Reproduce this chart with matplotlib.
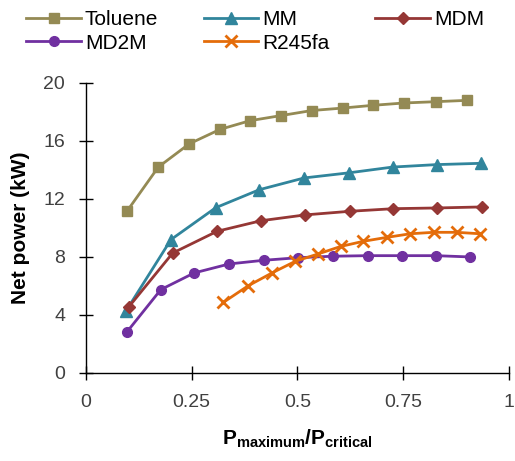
import matplotlib
matplotlib.use("Agg")
import matplotlib.pyplot as plt

plt.rcParams["font.family"] = ["Liberation Sans", "DejaVu Sans"]
plt.rcParams["mathtext.fontset"] = "custom"
plt.rcParams["mathtext.rm"] = "Liberation Sans"
plt.rcParams["mathtext.bf"] = "Liberation Sans:bold"

# data
tol_x = [0.098, 0.171, 0.244, 0.317, 0.388, 0.461, 0.534, 0.607, 0.679, 0.752, 0.827, 0.900]
tol_y = [11.2, 14.2, 15.8, 16.8, 17.4, 17.75, 18.1, 18.27, 18.46, 18.62, 18.71, 18.8]

mm_x = [0.094, 0.201, 0.307, 0.410, 0.516, 0.621, 0.725, 0.829, 0.935]
mm_y = [4.25, 9.2, 11.4, 12.64, 13.45, 13.8, 14.2, 14.37, 14.46]

mdm_x = [0.101, 0.205, 0.310, 0.414, 0.518, 0.624, 0.727, 0.831, 0.936]
mdm_y = [4.55, 8.27, 9.77, 10.5, 10.9, 11.15, 11.33, 11.38, 11.45]

md2m_x = [0.096, 0.177, 0.256, 0.339, 0.420, 0.502, 0.583, 0.666, 0.747, 0.827, 0.909]
md2m_y = [2.8, 5.75, 6.9, 7.52, 7.77, 7.95, 8.05, 8.09, 8.09, 8.09, 8.0]

r245_x = [0.325, 0.384, 0.440, 0.495, 0.548, 0.603, 0.656, 0.711, 0.767, 0.822, 0.877, 0.932]
r245_y = [4.87, 6.02, 6.9, 7.7, 8.2, 8.73, 9.08, 9.35, 9.6, 9.7, 9.7, 9.6]

fig = plt.figure(figsize=(5.15, 4.61), dpi=100)
ax = fig.add_axes([0.167, 0.191, 0.821, 0.629])

h_tol, = ax.plot(tol_x, tol_y, "-s", color="#948A54", lw=2, ms=7, label="Toluene")
h_mm, = ax.plot(mm_x, mm_y, "-^", color="#31859C", lw=2, ms=8, label="MM")
h_mdm, = ax.plot(mdm_x, mdm_y, "-D", color="#953735", lw=2, ms=6, label="MDM")
h_md2m, = ax.plot(md2m_x, md2m_y, "-o", color="#7030A0", lw=2, ms=7, label="MD2M")
h_r245, = ax.plot(r245_x, r245_y, "-x", color="#E46C0A", lw=2, ms=8, mew=2, label="R245fa")

ax.set_xlim(0, 1)
ax.set_ylim(0, 20)
ax.set_xticks([0, 0.25, 0.5, 0.75, 1])
ax.set_xticklabels(["0", "0.25", "0.5", "0.75", "1"])
ax.set_yticks([0, 4, 8, 12, 16, 20])
ax.tick_params(direction="inout", length=10, width=1, labelsize=14,
               color="black", labelcolor="#404040")
ax.tick_params(axis="x", pad=10)
ax.tick_params(axis="y", pad=10)
for s in ("top", "right"):
    ax.spines[s].set_visible(False)
for s in ("left", "bottom"):
    ax.spines[s].set_linewidth(1)

ax.set_xlabel(r"$\mathbf{P_{maximum}/P_{critical}}$", fontsize=15, labelpad=12)
ax.set_ylabel("Net power (kW)", fontsize=15, fontweight="bold", labelpad=10)

# row-wise legend order: Toluene, MM, MDM / MD2M, R245fa
handles = [h_tol, h_md2m, h_mm, h_r245, h_mdm]
fig.legend(handles, [h.get_label() for h in handles],
           loc="upper left", bbox_to_anchor=(0.015, 1.018), ncol=3, frameon=False,
           fontsize=15, handlelength=2.6, handletextpad=0.2, columnspacing=2.2,
           labelspacing=0.2)

fig.savefig("out.png", dpi=100)
